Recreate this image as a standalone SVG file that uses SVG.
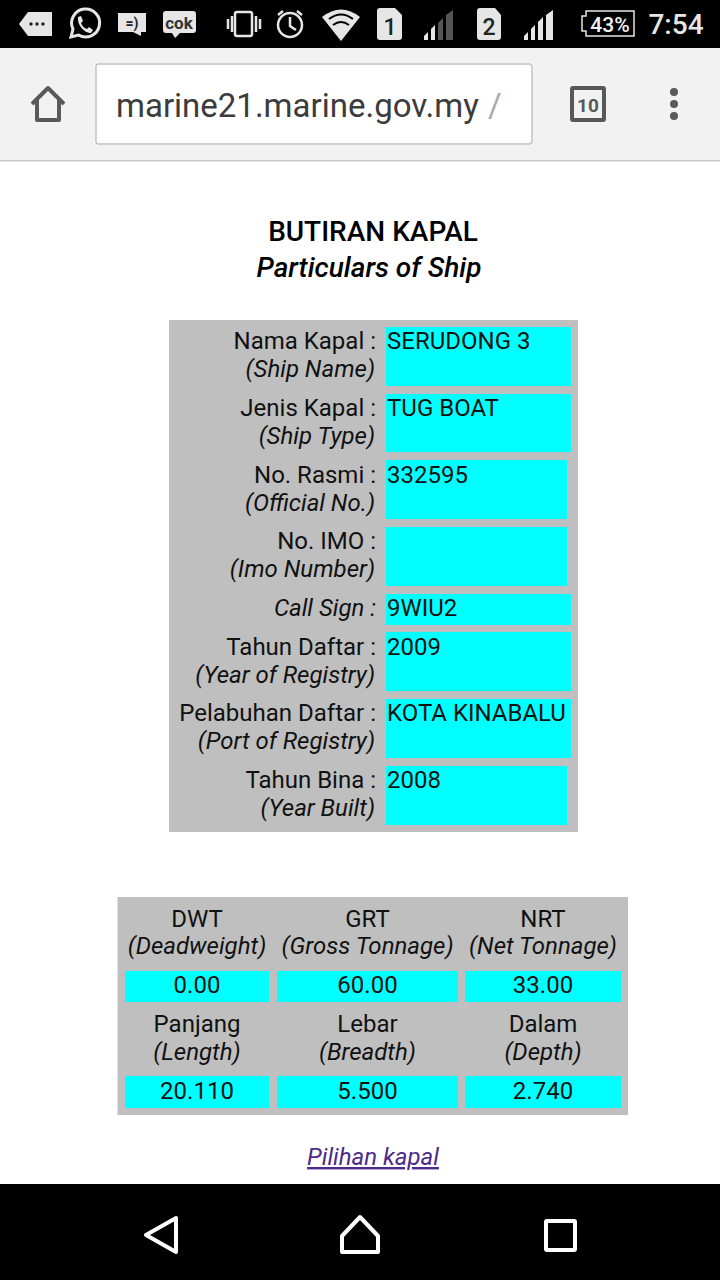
<svg xmlns="http://www.w3.org/2000/svg" width="720" height="1280" viewBox="0 0 720 1280">
<style>
text{font-family:Roboto,"Liberation Sans",sans-serif;fill:#111}
.l{font-size:24px;text-anchor:end}
.i{font-style:italic}
.v{font-size:24px}
.c{font-size:24px;text-anchor:middle}
.cy{fill:#0ff}
.g{fill:#bfbfbf}
.ic{fill:#e6e6e6}
.st{fill:none;stroke:#e6e6e6}
.tb{fill:none;stroke:#595959;stroke-width:4;stroke-linejoin:round}
</style>
<rect width="720" height="1280" fill="#fff"/>
<g id="status-bar">
<rect width="720" height="48" fill="#000"/>
<path class="ic" d="M19 24L28 12H52V36H28Z"/>
<circle cx="31" cy="24" r="1.7" fill="#222"/><circle cx="37" cy="24" r="1.7" fill="#222"/><circle cx="43" cy="24" r="1.7" fill="#222"/>
<path class="st" stroke-width="3" d="M71 37L73 29A14 14 0 1 1 78.500 35Z"/>
<path fill="#e6e6e6" d="M78 17L81 16L83 21L81 23C82 26 84 28 87 29L89 27L93 30L91 33C84 33 77 25 78 17Z"/>
<path class="ic" d="M118 13H146V32H141V36L133 32H118Z"/>
<text x="132" y="28" font-size="14" font-weight="700" text-anchor="middle" style="fill:#222">=)</text>
<path class="ic" d="M166 11H193Q196 11 196 14V30Q196 33 193 33H180L175 38L172 33H166Q163 33 163 30V14Q163 11 166 11Z"/>
<text x="179" y="29" font-size="17" font-weight="700" text-anchor="middle" style="fill:#333">cok</text>
<rect x="235" y="12" width="17" height="24" rx="2" class="st" stroke-width="2.500"/>
<path class="st" stroke-width="2.500" d="M228 19V29M232 16V32M256 16V32M260 19V29"/>
<circle cx="290" cy="25" r="12" class="st" stroke-width="2.500"/>
<path class="st" stroke-width="2.500" d="M290 17V26L296 30M278 15L283 11M302 15L297 11"/>
<path class="ic" d="M322 17Q341 2 360 17L341 41Z"/>
<path d="M329 19Q341 10 353 19" fill="none" stroke="#000" stroke-width="2"/><path d="M333 25Q341 19 349 25" fill="none" stroke="#000" stroke-width="2"/>
<path class="ic" d="M380 8H395L402 15V37Q402 40 399 40H380Q377 40 377 37V11Q377 8 380 8Z"/>
<text x="390" y="35" font-size="23" font-weight="500" text-anchor="middle" style="fill:#222">1</text>
<path fill="#e6e6e6" d="M424 40V36L428 32V40ZM431 40V29L435 25V40Z"/>
<path fill="#555" d="M438 40V23L443 18V40ZM446 40V15L453 10V40Z"/>
<path class="ic" d="M480 8H495L501 15V37Q501 40 498 40H480Q477 40 477 37V11Q477 8 480 8Z"/>
<text x="489" y="35" font-size="23" font-weight="500" text-anchor="middle" style="fill:#222">2</text>
<path fill="#e6e6e6" d="M524 40V36L528 32V40ZM531 40V29L535 25V40ZM538 40V22L543 17V40ZM546 40V15L553 10V40Z"/>
<path fill="none" stroke="#e6e6e6" stroke-width="1.500" d="M586 11H634V36H586V31H582V16H586Z"/>
<text x="610" y="32" font-size="21" font-weight="500" text-anchor="middle" style="fill:#f2f2f2">43%</text>
<text x="676" y="34" font-size="28" font-weight="500" text-anchor="middle" style="fill:#e6e6e6">7:54</text>
</g>
<g id="browser-bar">
<rect y="48" width="720" height="113" fill="#f2f2f2"/>
<rect y="160" width="720" height="1.500" fill="#c8c8c8"/>
<path class="tb" d="M32 104L48 88L64 104M37 100V120H59V100"/>
<rect x="96" y="64" width="436" height="80" rx="3" fill="#fff" stroke="#c4c4c4" stroke-width="1.500"/>
<text x="116" y="117" font-size="33" style="fill:#3c3c3c">marine21.marine.gov.my</text>
<text x="488" y="117" font-size="33" style="fill:#a8a8a8">/</text>
<rect x="502" y="88" width="10" height="36" fill="#fff"/>
<rect x="572" y="88" width="32" height="32" rx="1" class="tb"/>
<text x="588" y="112" font-size="19" font-weight="700" text-anchor="middle" style="fill:#595959">10</text>
<circle cx="674" cy="92" r="4" fill="#595959"/><circle cx="674" cy="104" r="4" fill="#595959"/><circle cx="674" cy="116" r="4" fill="#595959"/>
</g>
<g id="title">
<text x="373" y="241" font-size="28" font-weight="500" text-anchor="middle" style="fill:#000">BUTIRAN KAPAL</text>
<text x="369" y="277" font-size="28" font-weight="500" font-style="italic" text-anchor="middle" style="fill:#000">Particulars of Ship</text>
</g>
<g id="ship-table">
<rect class="g" x="169" y="320" width="409" height="512"/>
<g id="ship-name"><rect class="cy" x="386" y="327" width="185" height="59"/><text class="l" x="376" y="349">Nama Kapal :</text><text class="l i" x="375" y="377">(Ship Name)</text><text class="v" x="387" y="349">SERUDONG 3</text></g>
<g id="ship-type"><rect class="cy" x="386" y="394" width="185" height="58"/><text class="l" x="376" y="416">Jenis Kapal :</text><text class="l i" x="375" y="444">(Ship Type)</text><text class="v" x="387" y="416">TUG BOAT</text></g>
<g id="official-no"><rect class="cy" x="386" y="460" width="181" height="59"/><text class="l" x="376" y="483">No. Rasmi :</text><text class="l i" x="375" y="511">(Official No.)</text><text class="v" x="387" y="483">332595</text></g>
<g id="imo-number"><rect class="cy" x="386" y="527" width="181" height="59"/><text class="l" x="376" y="549">No. IMO :</text><text class="l i" x="375" y="577">(Imo Number)</text></g>
<g id="call-sign"><rect class="cy" x="386" y="594" width="185" height="31"/><text class="l i" x="376" y="616">Call Sign :</text><text class="v" x="387" y="616">9WIU2</text></g>
<g id="year-registry"><rect class="cy" x="386" y="632" width="185" height="59"/><text class="l" x="376" y="655">Tahun Daftar :</text><text class="l i" x="375" y="683">(Year of Registry)</text><text class="v" x="387" y="655">2009</text></g>
<g id="port-registry"><rect class="cy" x="386" y="699" width="185" height="59"/><text class="l" x="376" y="721">Pelabuhan Daftar :</text><text class="l i" x="375" y="749">(Port of Registry)</text><text class="v" x="387" y="721">KOTA KINABALU</text></g>
<g id="year-built"><rect class="cy" x="386" y="766" width="181" height="59"/><text class="l" x="376" y="788">Tahun Bina :</text><text class="l i" x="375" y="816">(Year Built)</text><text class="v" x="387" y="788">2008</text></g>
</g>
<g id="dimension-table">
<rect class="g" x="117.500" y="897" width="510.500" height="218"/>
<g id="dwt"><text class="c" x="197" y="927">DWT</text><text class="c i" x="197" y="954">(Deadweight)</text><rect class="cy" x="125" y="971" width="144" height="31"/><text class="c" x="197" y="993">0.00</text></g>
<g id="grt"><text class="c" x="367.500" y="927">GRT</text><text class="c i" x="367.500" y="954">(Gross Tonnage)</text><rect class="cy" x="277" y="971" width="181" height="31"/><text class="c" x="367.500" y="993">60.00</text></g>
<g id="nrt"><text class="c" x="543" y="927">NRT</text><text class="c i" x="543" y="954">(Net Tonnage)</text><rect class="cy" x="465" y="971" width="156" height="31"/><text class="c" x="543" y="993">33.00</text></g>
<g id="length"><text class="c" x="197" y="1032">Panjang</text><text class="c i" x="197" y="1060">(Length)</text><rect class="cy" x="125" y="1076" width="144" height="32"/><text class="c" x="197" y="1099">20.110</text></g>
<g id="breadth"><text class="c" x="367.500" y="1032">Lebar</text><text class="c i" x="367.500" y="1060">(Breadth)</text><rect class="cy" x="277" y="1076" width="181" height="32"/><text class="c" x="367.500" y="1099">5.500</text></g>
<g id="depth"><text class="c" x="543" y="1032">Dalam</text><text class="c i" x="543" y="1060">(Depth)</text><rect class="cy" x="465" y="1076" width="156" height="32"/><text class="c" x="543" y="1099">2.740</text></g>
</g>
<g id="link">
<text x="373" y="1165" font-size="24" font-style="italic" text-anchor="middle" text-decoration="underline" style="fill:#4b2a8a">Pilihan kapal</text>
</g>
<g id="nav-bar">
<rect y="1184" width="720" height="96" fill="#000"/>
<path d="M176 1218V1252L146 1235Z" fill="none" stroke="#fff" stroke-width="4" stroke-linejoin="round"/>
<path d="M342 1236L360 1217L378 1236V1252H342Z" fill="none" stroke="#fff" stroke-width="4" stroke-linejoin="round"/>
<rect x="546" y="1221" width="29" height="29" rx="1" fill="none" stroke="#fff" stroke-width="4"/>
</g>
</svg>
